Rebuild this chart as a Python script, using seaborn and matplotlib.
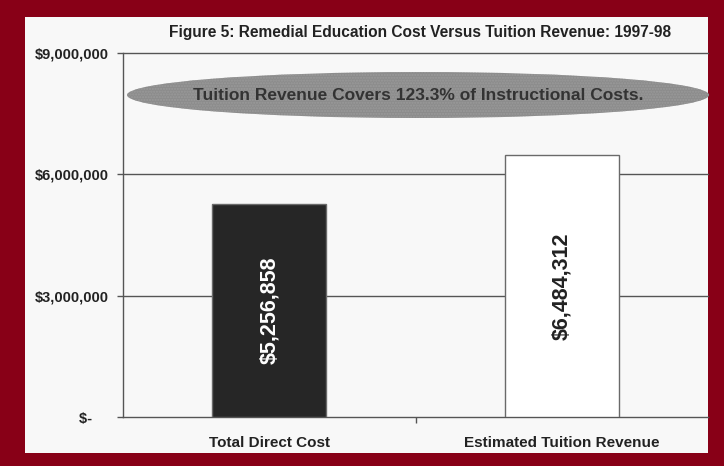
import matplotlib
matplotlib.use("Agg")
import matplotlib.pyplot as plt
from matplotlib.patches import Rectangle, Ellipse
import seaborn as sns
import pandas as pd

categories = ["Total Direct Cost", "Estimated Tuition Revenue"]
values = [5256858, 6484312]
bar_labels = ["$5,256,858", "$6,484,312"]
y_ticks = [0, 3000000, 6000000, 9000000]
y_tick_labels = ["$-    ", "$3,000,000", "$6,000,000", "$9,000,000"]
title = "Figure 5: Remedial Education Cost Versus Tuition Revenue: 1997-98"
callout = "Tuition Revenue Covers 123.3% of Instructional Costs."

sns.set_theme(style="white")
plt.rcParams["font.family"] = ["Liberation Sans", "DejaVu Sans"]

W, H = 724, 466
fig = plt.figure(figsize=(W / 100, H / 100), dpi=100, facecolor="#880017")

# light panel inside the dark red frame
fig.patches.append(Rectangle((25 / W, 1 - 453 / H), (708 - 25) / W, (453 - 17) / H,
                             transform=fig.transFigure, facecolor="#f8f8f8",
                             edgecolor="none", zorder=-10))

ax = fig.add_axes([123 / W, 1 - 417 / H, (708 - 123) / W, (417 - 53) / H])
ax.set_facecolor("#f8f8f8")
ax.set_zorder(1)

df = pd.DataFrame({"category": categories, "value": values})
sns.barplot(data=df, x="category", y="value", hue="category",
            palette=["#262626", "#ffffff"], width=0.39, legend=False,
            edgecolor="#6a6a6a", linewidth=1.0, ax=ax, zorder=3)

ax.set_xlim(-0.5, 1.5)
ax.set_ylim(0, 9000000)
ax.set_yticks(y_ticks)
ax.set_yticklabels(y_tick_labels, fontsize=10.5, fontweight="bold", color="#222222")
ax.set_xticks([0, 1])
ax.set_xticklabels(categories, fontsize=11, fontweight="bold", color="#222222")
ax.set_xlabel("")
ax.set_ylabel("")

# gridlines at major ticks above zero
for yv in y_ticks[1:]:
    ax.axhline(yv, color="#555555", linewidth=1.0, zorder=1, clip_on=False)

for side in ["top", "right"]:
    ax.spines[side].set_visible(False)
for side in ["left", "bottom"]:
    ax.spines[side].set_color("#555555")
    ax.spines[side].set_linewidth(1.0)

ax.tick_params(axis="y", which="both", left=True, length=4, width=1,
               color="#555555", pad=6)
ax.tick_params(axis="x", bottom=False, pad=8)
# category divider tick on the x axis
ax.set_xticks([0.5], minor=True)
ax.tick_params(axis="x", which="minor", bottom=True, length=4, width=1,
               color="#555555", direction="out")

# value labels inside the bars
label_colors = ["white", "#222222"]
for i, (v, lab) in enumerate(zip(values, bar_labels)):
    ax.text(i, v / 2, lab, rotation=90, ha="center", va="center",
            fontsize=15.5, fontweight="bold", color=label_colors[i], zorder=5)

# callout ellipse
ell = Ellipse(((127 + 709) / 2 / W, 1 - 95 / H), (709 - 127) / W, (118 - 72) / H,
              transform=fig.transFigure, facecolor="#8c8c8c", edgecolor="#9a9a9a",
              hatch="......", linewidth=0, zorder=4)
fig.patches.append(ell)
fig.text(418 / W, 1 - 95 / H, callout, ha="center", va="center",
         fontsize=12.5, fontweight="bold", color="#333333", zorder=6)

fig.text(420 / W, 1 - 33 / H, title, ha="center", va="center",
         fontsize=11.2, fontweight="bold", color="#222222")

fig.savefig("out.png", dpi=100, facecolor=fig.get_facecolor())
